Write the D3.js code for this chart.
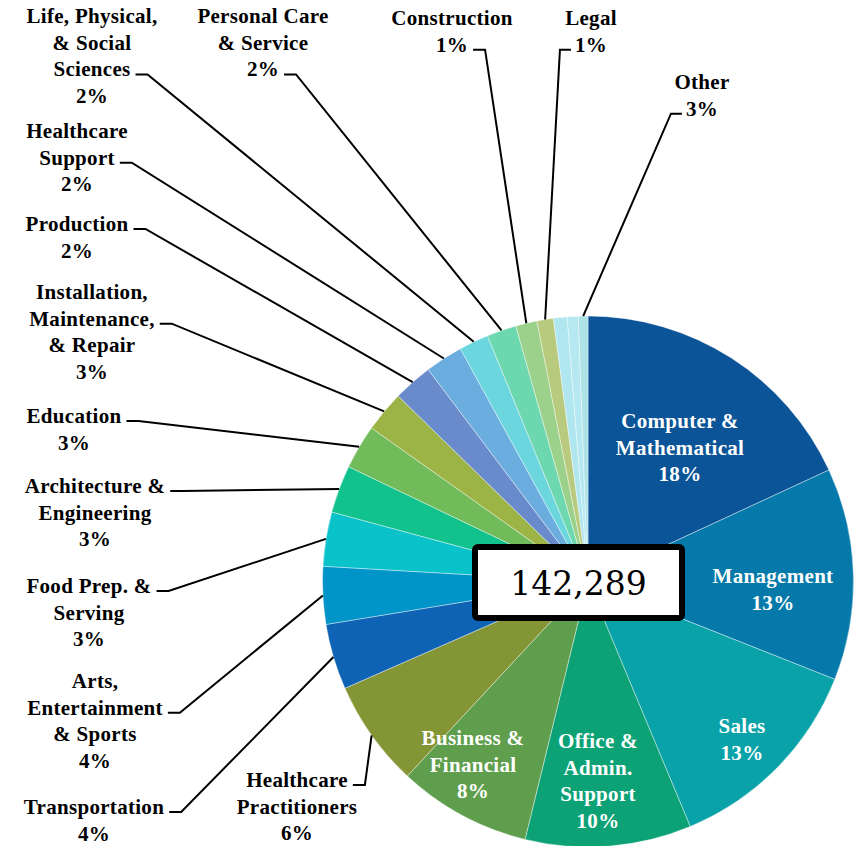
<!DOCTYPE html>
<html>
<head>
<meta charset="utf-8">
<script src="https://cdn.jsdelivr.net/npm/d3@7"></script>
<style>
  body { margin: 0; background: #fff; }
  svg { display: block; }
</style>
</head>
<body>
<div id="chart"></div>
<script>
// occupation groups, clockwise from 12 o'clock
var categories = [
  "Computer & Mathematical", "Management", "Sales", "Office & Admin. Support",
  "Business & Financial", "Healthcare Practitioners", "Transportation",
  "Arts, Entertainment & Sports", "Food Prep. & Serving", "Architecture & Engineering",
  "Education", "Installation, Maintenance, & Repair", "Production", "Healthcare Support",
  "Life, Physical, & Social Sciences", "Personal Care & Service", "Construction", "Legal", "Other"
];
// share of total (%)
var shares = [18.1, 12.9, 12.7, 10.1, 8.1, 6.5, 4.0, 3.5, 3.3, 2.9, 2.7, 2.5, 2.4, 2.3, 1.8, 1.8, 1.3, 1.0];
// "Other" is drawn as three thin slices
var otherParts = [0.83, 0.67, 0.58];
var pctLabels = ["18%", "13%", "13%", "10%", "8%", "6%", "4%", "4%", "3%", "3%", "3%", "3%", "2%", "2%", "2%", "2%", "1%", "1%", "3%"];
var total = 142289;

var colors = [
  "#0b5497", "#0579a9", "#08a2a8", "#0da276", "#5f9e4c", "#839535", "#0e63b4",
  "#0094c8", "#0ac2ca", "#12c28c", "#72bb5a", "#9cb346", "#6a8bcb", "#6aadde",
  "#6cd6de", "#6dd7b0", "#9bd18a", "#b8ca7e"
];
var otherColors = ["#b0e6ef", "#b6e8f1", "#ade2e7"];

// label placement: text lines, centre x, first baseline, line the leader attaches to
var labelLayout = [
  { lines: ["Computer &", "Mathematical"], x: 680, y: 428, inside: true },
  { lines: ["Management"], x: 773, y: 583, inside: true },
  { lines: ["Sales"], x: 742, y: 733, inside: true },
  { lines: ["Office &", "Admin.", "Support"], x: 598, y: 748, inside: true },
  { lines: ["Business &", "Financial"], x: 473, y: 745, inside: true },
  { lines: ["Healthcare", "Practitioners"], x: 297, y: 787, attach: 0, side: "right" },
  { lines: ["Transportation"], x: 94, y: 814, attach: 0, side: "right" },
  { lines: ["Arts,", "Entertainment", "& Sports"], x: 95, y: 688, attach: 1, side: "right" },
  { lines: ["Food Prep. &", "Serving"], x: 89, y: 593, attach: 0, side: "right" },
  { lines: ["Architecture &", "Engineering"], x: 95, y: 493, attach: 0, side: "right" },
  { lines: ["Education"], x: 74, y: 423, attach: 0, side: "right" },
  { lines: ["Installation,", "Maintenance,", "& Repair"], x: 92, y: 299, attach: 1, side: "right" },
  { lines: ["Production"], x: 77, y: 231, attach: 0, side: "right" },
  { lines: ["Healthcare", "Support"], x: 77, y: 138, attach: 1, side: "right" },
  { lines: ["Life, Physical,", "& Social", "Sciences"], x: 92, y: 23, attach: 2, side: "right" },
  { lines: ["Personal Care", "& Service"], x: 263, y: 23, attach: 2, side: "right" },
  { lines: ["Construction"], x: 452, y: 25, attach: 1, side: "right" },
  { lines: ["Legal"], x: 591, y: 25, attach: 1, side: "left" },
  { lines: ["Other"], x: 702, y: 89, attach: 1, side: "left" }
];

var width = 857;
var height = 846;
var cx = 588, cy = 581.5, radius = 265.5;
var lineH = 26.7;

var svg = d3.select("#chart")
  .append("svg")
  .attr("width", width)
  .attr("height", height);

// build slice list; the Other label points at the last sub slice
var slices = shares.map(function (v, i) {
  return { value: v, color: colors[i], label: i };
});
otherParts.forEach(function (v, j) {
  slices.push({ value: v, color: otherColors[j], label: j === otherParts.length - 1 ? categories.length - 1 : null });
});

var pie = d3.pie().sort(null).value(function (d) { return d.value; });
var arcs = pie(slices);
var arc = d3.arc().innerRadius(0).outerRadius(radius);

var g = svg.append("g").attr("transform", "translate(" + cx + "," + cy + ")");

g.selectAll(".slice")
  .data(arcs)
  .enter()
  .append("path")
  .attr("class", "slice")
  .attr("d", arc)
  .attr("fill", function (d) { return d.data.color; })
  .attr("stroke", "#fff")
  .attr("stroke-width", 0.4);

// labels
var font = "'Liberation Serif', 'Times New Roman', serif";
arcs.forEach(function (a) {
  var idx = a.data.label;
  if (idx === null) return;
  var lay = labelLayout[idx];
  var lines = lay.lines.concat([pctLabels[idx]]);

  var txt = svg.append("text")
    .attr("font-family", font)
    .attr("font-weight", "bold")
    .attr("font-size", "21px")
    .attr("letter-spacing", "0.3px")
    .attr("text-anchor", "middle")
    .attr("fill", lay.inside ? "#fff" : "#000");

  var spans = lines.map(function (l, k) {
    return txt.append("tspan")
      .attr("x", lay.x)
      .attr("y", lay.y + k * lineH)
      .text(l);
  });

  if (lay.inside) return;

  // leader line: short horizontal stub next to the text, then straight to the rim
  var bb = spans[lay.attach].node().getBBox();
  var ly = lay.y + lay.attach * lineH - 2;
  var x0 = lay.side === "right" ? bb.x + bb.width + 5 : bb.x - 4;
  var x1 = lay.side === "right" ? x0 + 12 : x0 - 11;
  var mid = (a.startAngle + a.endAngle) / 2;
  var px = cx + radius * Math.sin(mid);
  var py = cy - radius * Math.cos(mid);

  svg.append("path")
    .attr("d", d3.line()([[x0, ly], [x1, ly], [px, py]]))
    .attr("fill", "none")
    .attr("stroke", "#000")
    .attr("stroke-width", 2);
});

// total in the middle
var box = { w: 207, h: 71 };
var bx = 475, by = 547;
svg.append("rect")
  .attr("x", bx)
  .attr("y", by)
  .attr("width", box.w)
  .attr("height", box.h)
  .attr("rx", 3)
  .attr("fill", "#fff")
  .attr("stroke", "#000")
  .attr("stroke-width", 6);

svg.append("text")
  .attr("x", bx + box.w / 2)
  .attr("y", by + box.h / 2 + 12)
  .attr("text-anchor", "middle")
  .attr("font-family", "Georgia, 'DejaVu Serif', serif")
  .attr("font-size", "33px")
  .attr("fill", "#000")
  .text(d3.format(",")(total));
</script>
</body>
</html>
